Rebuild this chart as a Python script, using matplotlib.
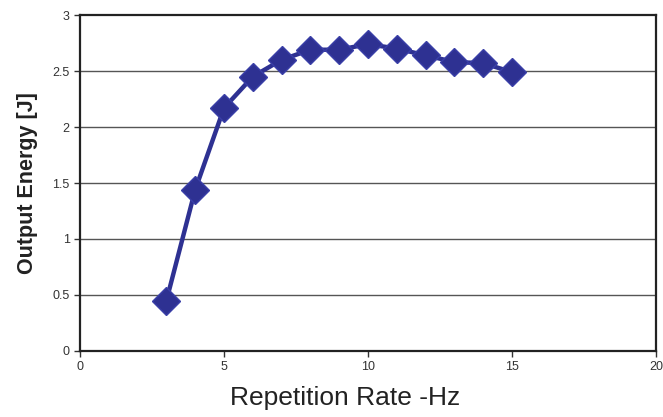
import matplotlib
matplotlib.use("Agg")
import matplotlib.pyplot as plt

# repetition rate (Hz) and output energy (J)
rate = [3, 4, 5, 6, 7, 8, 9, 10, 11, 12, 13, 14, 15]
energy = [0.45, 1.44, 2.17, 2.45, 2.60, 2.69, 2.69, 2.74, 2.70, 2.64, 2.58, 2.57, 2.49]

x_ticks = [0, 5, 10, 15, 20]
y_ticks = [0, 0.5, 1, 1.5, 2, 2.5, 3]
y_labels = ["0", "0.5", "1", "1.5", "2", "2.5", "3"]

plt.rcParams['font.family'] = ['Liberation Sans', 'DejaVu Sans']

fig = plt.figure(figsize=(6.63, 4.17), dpi=100)
ax = fig.add_axes([0.1207, 0.1583, 0.8687, 0.8057])

for y in y_ticks[1:-1]:
    ax.axhline(y, color="#555555", lw=1.0, zorder=1)

col = "#2E3192"
ax.plot(rate, energy, color=col, lw=3.2, zorder=3)
ax.plot(rate, energy, ls="none", marker="D", ms=14, color=col,
        markeredgecolor="#3a3fa8", markeredgewidth=1, zorder=4)

ax.set_xlim(0, 20)
ax.set_ylim(0, 3)
ax.set_xticks(x_ticks)
ax.set_yticks(y_ticks)
ax.set_yticklabels(y_labels)
ax.tick_params(axis="both", labelsize=9, labelcolor="#333333", length=4,
               width=1, direction="out", color="#333333")
for s in ax.spines.values():
    s.set_linewidth(1.6)
    s.set_color("#222222")

ax.set_xlabel("Repetition Rate -Hz", fontsize=19, color="#222222", labelpad=9)
ax.xaxis.set_label_coords(0.46, -0.105)
ax.set_ylabel("Output Energy [J]", fontsize=15.5, fontweight="bold",
              color="#222222", labelpad=10)

fig.savefig("out.png", dpi=100)
